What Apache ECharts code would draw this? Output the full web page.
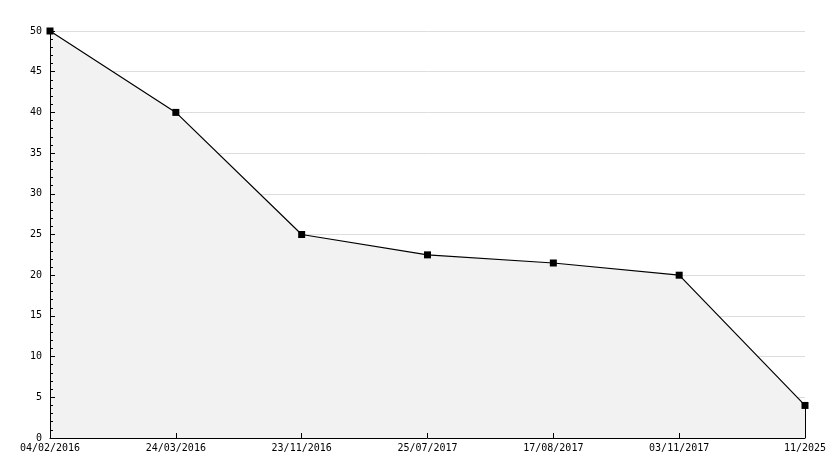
<!DOCTYPE html>
<html>
<head>
<meta charset="utf-8">
<script src="https://cdn.jsdelivr.net/npm/echarts@6/dist/echarts.min.js"></script>
<style>
  html, body { margin: 0; padding: 0; background: #fff; }
  #chart { width: 834px; height: 468px; }
</style>
</head>
<body>
<div id="chart"></div>
<script>
const dates = ['04/02/2016', '24/03/2016', '23/11/2016', '25/07/2017', '17/08/2017', '03/11/2017', '11/2025']
const values = [50, 40, 25, 22.5, 21.5, 20, 4]

const chart = echarts.init(document.getElementById('chart'))
const font = 'DejaVu Sans Mono'

chart.setOption({
  animation: false,
  grid: {
    left: 50,
    right: 29,
    top: 31,
    bottom: 30
  },
  xAxis: {
    type: 'category',
    data: dates,
    boundaryGap: false,
    z: 10,
    axisLine: { lineStyle: { color: '#000', width: 1 } },
    axisTick: { inside: true, length: 5, lineStyle: { color: '#000' } },
    axisLabel: { color: '#000', fontFamily: font, fontSize: 10, margin: 5 },
    splitLine: { show: false }
  },
  yAxis: [{
    // grid lines only, drawn under the area
    type: 'value',
    min: 0,
    max: 50,
    interval: 5,
    z: 0,
    axisLine: { show: false },
    axisTick: { show: false },
    axisLabel: { show: false },
    splitLine: { show: true, lineStyle: { color: '#dddddd', width: 1 } }
  }, {
    // axis line, ticks and labels over the area
    type: 'value',
    position: 'left',
    min: 0,
    max: 50,
    interval: 5,
    z: 10,
    axisLine: { show: true, lineStyle: { color: '#000', width: 1 } },
    axisTick: { show: true, inside: true, length: 5, lineStyle: { color: '#000' } },
    minorTick: { show: true, splitNumber: 5, length: 3, lineStyle: { color: '#000' } },
    axisLabel: { color: '#000', fontFamily: font, fontSize: 10, margin: 8 },
    splitLine: { show: false }
  }],
  series: [{
    type: 'line',
    z: 2,
    yAxisIndex: 0,
    data: values,
    symbol: 'rect',
    symbolSize: 7,
    showAllSymbol: true,
    itemStyle: { color: '#000' },
    lineStyle: { color: '#000', width: 1.2 },
    areaStyle: { color: '#f2f2f2', opacity: 1 },
    markLine: {
      silent: true,
      symbol: 'none',
      label: { show: false },
      lineStyle: { color: '#000', width: 1, type: 'solid' },
      data: [[
        { coord: [dates.length - 1, values[values.length - 1]] },
        { coord: [dates.length - 1, 0] }
      ]]
    }
  }]
})
</script>
</body>
</html>
